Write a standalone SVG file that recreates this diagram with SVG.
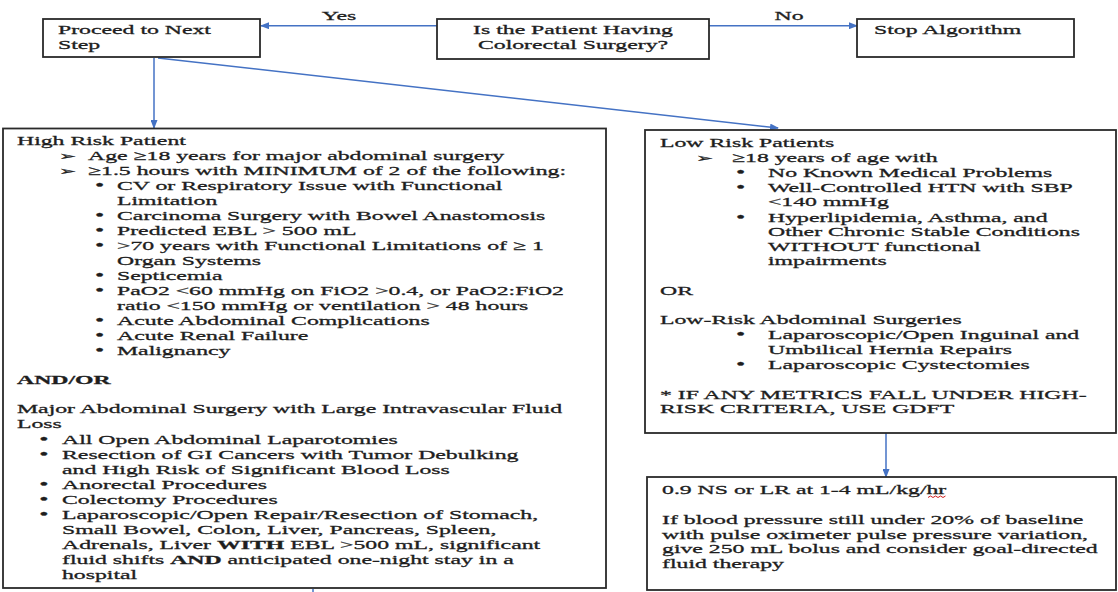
<svg xmlns="http://www.w3.org/2000/svg" width="1118" height="592" viewBox="0 0 1118 592">
<style>
.box{fill:#fff;stroke:#2a2a2a;stroke-width:1.8}
.t{font-family:"Liberation Serif","Times New Roman",serif;font-size:13.5px;fill:#1e1e1e;stroke:#1e1e1e;stroke-width:0.3}
.b{font-weight:bold}
.arr{font-family:"DejaVu Sans",sans-serif;font-size:11.5px}
.bu{font-size:15px}
.c{text-anchor:middle}
.con{stroke:#4472C4;stroke-width:1.5;fill:none}
</style>
<defs>
<marker id="ah" markerUnits="userSpaceOnUse" markerWidth="9" markerHeight="7" refX="8" refY="3.5" orient="auto">
<path d="M0,0 L9,3.5 L0,7 z" fill="#4472C4"/>
</marker>
</defs>
<rect width="1118" height="592" fill="#fff"/>
<g id="connectors">
<line class="con" x1="437" y1="25.7" x2="261" y2="25.7" marker-end="url(#ah)"/>
<line class="con" x1="709" y1="25.7" x2="857" y2="25.7" marker-end="url(#ah)"/>
<line class="con" x1="154" y1="58" x2="154" y2="128" marker-end="url(#ah)"/>
<line class="con" x1="158" y1="58" x2="778" y2="128" marker-end="url(#ah)"/>
<line class="con" x1="886" y1="433" x2="886" y2="477" marker-end="url(#ah)"/>
<line class="con" x1="313" y1="589" x2="313" y2="592"/>
<g transform="scale(1.76 1)" class="t">
<text x="192.6" y="20" class="c">Yes</text>
<text x="448.3" y="20" class="c">No</text>
</g>
</g>
<g id="proceed">
<rect class="box" x="43" y="19" width="217" height="38"/>
<g transform="scale(1.76 1)" class="t">
<text x="32.95" y="34">Proceed to Next</text>
<text x="32.95" y="49">Step</text>
</g>
</g>
<g id="question">
<rect class="box" x="437" y="19" width="272" height="40"/>
<g transform="scale(1.76 1)" class="t">
<text x="325.57" y="34" class="c">Is the Patient Having</text>
<text x="325.57" y="49" class="c">Colorectal Surgery?</text>
</g>
</g>
<g id="stop">
<rect class="box" x="857" y="19" width="217" height="38"/>
<g transform="scale(1.76 1)" class="t">
<text x="496.59" y="34">Stop Algorithm</text>
</g>
</g>
<g id="high-risk">
<rect class="box" x="3" y="128.5" width="603" height="459.5"/>
<g transform="scale(1.76 1)" class="t">
<text x="9.66" y="145.5">High Risk Patient</text>
<text x="33.5" y="160.5" class="arr">➢</text><text x="50" y="160.5">Age ≥18 years for major abdominal surgery</text>
<text x="33.5" y="175.5" class="arr">➢</text><text x="50" y="175.5">≥1.5 hours with MINIMUM of 2 of the following:</text>
<text x="54" y="190.5" class="bu">•</text><text x="66.48" y="190.5">CV or Respiratory Issue with Functional</text>
<text x="66.48" y="205.5">Limitation</text>
<text x="54" y="220.5" class="bu">•</text><text x="66.48" y="220.5">Carcinoma Surgery with Bowel Anastomosis</text>
<text x="54" y="235.5" class="bu">•</text><text x="66.48" y="235.5">Predicted EBL &gt; 500 mL</text>
<text x="54" y="250.5" class="bu">•</text><text x="66.48" y="250.5">&gt;70 years with Functional Limitations of ≥ 1</text>
<text x="66.48" y="265.5">Organ Systems</text>
<text x="54" y="280.5" class="bu">•</text><text x="66.48" y="280.5">Septicemia</text>
<text x="54" y="295.5" class="bu">•</text><text x="66.48" y="295.5">PaO2 &lt;60 mmHg on FiO2 &gt;0.4, or PaO2:FiO2</text>
<text x="66.48" y="310.5">ratio &lt;150 mmHg or ventilation &gt; 48 hours</text>
<text x="54" y="325.5" class="bu">•</text><text x="66.48" y="325.5">Acute Abdominal Complications</text>
<text x="54" y="340.5" class="bu">•</text><text x="66.48" y="340.5">Acute Renal Failure</text>
<text x="54" y="355.5" class="bu">•</text><text x="66.48" y="355.5">Malignancy</text>
<text x="9.66" y="384.5" class="b">AND/OR</text>
<text x="9.66" y="413.5">Major Abdominal Surgery with Large Intravascular Fluid</text>
<text x="9.66" y="428.5">Loss</text>
<text x="22.3" y="444.5" class="bu">•</text><text x="35.23" y="444.5">All Open Abdominal Laparotomies</text>
<text x="22.3" y="459.5" class="bu">•</text><text x="35.23" y="459.5">Resection of GI Cancers with Tumor Debulking</text>
<text x="35.23" y="474.5">and High Risk of Significant Blood Loss</text>
<text x="22.3" y="489.5" class="bu">•</text><text x="35.23" y="489.5">Anorectal Procedures</text>
<text x="22.3" y="504.5" class="bu">•</text><text x="35.23" y="504.5">Colectomy Procedures</text>
<text x="22.3" y="519.5" class="bu">•</text><text x="35.23" y="519.5">Laparoscopic/Open Repair/Resection of Stomach,</text>
<text x="35.23" y="534.5">Small Bowel, Colon, Liver, Pancreas, Spleen,</text>
<text x="35.23" y="549.5">Adrenals, Liver <tspan class="b">WITH</tspan> EBL &gt;500 mL, significant</text>
<text x="35.23" y="564.5">fluid shifts <tspan class="b">AND</tspan> anticipated one-night stay in a</text>
<text x="35.23" y="579">hospital</text>
</g>
</g>
<g id="low-risk">
<rect class="box" x="645" y="130" width="471" height="303"/>
<g transform="scale(1.76 1)" class="t">
<text x="375" y="147.5">Low Risk Patients</text>
<text x="395.5" y="162" class="arr">➢</text><text x="415.91" y="162">≥18 years of age with</text>
<text x="418.2" y="177" class="bu">•</text><text x="436.36" y="177">No Known Medical Problems</text>
<text x="418.2" y="192" class="bu">•</text><text x="436.36" y="192">Well-Controlled HTN with SBP</text>
<text x="436.36" y="206.5">&lt;140 mmHg</text>
<text x="418.2" y="222" class="bu">•</text><text x="436.36" y="222">Hyperlipidemia, Asthma, and</text>
<text x="436.36" y="236.5">Other Chronic Stable Conditions</text>
<text x="436.36" y="251">WITHOUT functional</text>
<text x="436.36" y="265.5">impairments</text>
<text x="375" y="295.5">OR</text>
<text x="375" y="324.5">Low-Risk Abdominal Surgeries</text>
<text x="418.2" y="339.5" class="bu">•</text><text x="436.36" y="339.5">Laparoscopic/Open Inguinal and</text>
<text x="436.36" y="354">Umbilical Hernia Repairs</text>
<text x="418.2" y="369.5" class="bu">•</text><text x="436.36" y="369.5">Laparoscopic Cystectomies</text>
<text x="375" y="399">* IF ANY METRICS FALL UNDER HIGH-</text>
<text x="375" y="413.5">RISK CRITERIA, USE GDFT</text>
</g>
</g>
<g id="fluid">
<rect class="box" x="647" y="477" width="469" height="113"/>
<g transform="scale(1.76 1)" class="t">
<text x="376.14" y="494.5">0.9 NS or LR at 1-4 mL/kg/hr</text>
<text x="376.14" y="524.5">If blood pressure still under 20% of baseline</text>
<text x="376.14" y="539">with pulse oximeter pulse pressure variation,</text>
<text x="376.14" y="553.5">give 250 mL bolus and consider goal-directed</text>
<text x="376.14" y="568">fluid therapy</text>
</g>
<path d="M928,497.5 l2.5,-1.5 l2.5,1.5 l2.5,-1.5 l2.5,1.5 l2.5,-1.5 l2.5,1.5 l2.5,-1.5" fill="none" stroke="#d02020" stroke-width="1"/>
</g>
</svg>
